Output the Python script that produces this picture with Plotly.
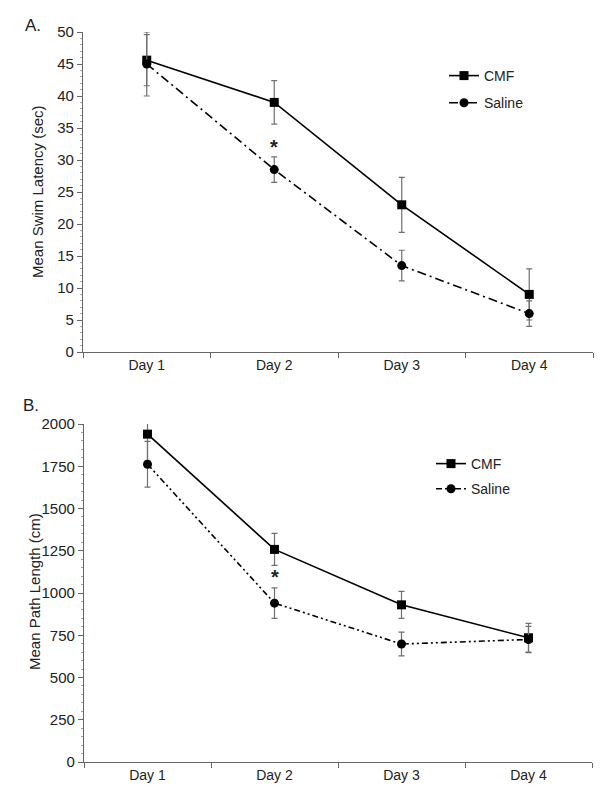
import plotly.graph_objects as go

# data
days = ["Day 1", "Day 2", "Day 3", "Day 4"]

latency_cmf = [45.6, 39.0, 23.0, 9.0]
latency_cmf_err = [4.0, 3.4, 4.3, 4.0]
latency_saline = [45.0, 28.5, 13.5, 6.0]
latency_saline_err = [5.0, 2.0, 2.4, 2.0]

path_cmf = [1940, 1258, 930, 735]
path_cmf_err = [160, 95, 80, 85]
path_saline = [1762, 940, 698, 725]
path_saline_err = [135, 90, 70, 78]

W, H = 600, 802
FONT = "Liberation Sans, Arial, Helvetica, sans-serif"
AXC = "#666666"
ERRC = "#707070"


def xdom(x0, x1):
    return [x0 / W, x1 / W]


def ydom(top, bottom):
    return [1 - bottom / H, 1 - top / H]


fig = go.Figure()


def add_pair(cmf, cmf_err, sal, sal_err, xa, ya, legend, dash):
    fig.add_trace(go.Scatter(
        x=days, y=cmf, name="CMF", xaxis=xa, yaxis=ya, legend=legend,
        legendgroup=legend + "a", mode="lines+markers", cliponaxis=False,
        line=dict(color="black", width=1.6),
        marker=dict(symbol="square", size=9, color="black"),
        error_y=dict(type="data", array=cmf_err, color=ERRC, thickness=1.2, width=3),
    ))
    fig.add_trace(go.Scatter(
        x=days, y=sal, name="Saline", xaxis=xa, yaxis=ya, legend=legend,
        legendgroup=legend + "b", mode="lines+markers", cliponaxis=False,
        line=dict(color="black", width=1.6, dash=dash),
        marker=dict(symbol="circle", size=9, color="black"),
        error_y=dict(type="data", array=sal_err, color=ERRC, thickness=1.2, width=3),
    ))


add_pair(latency_cmf, latency_cmf_err, latency_saline, latency_saline_err,
         "x", "y", "legend", "9px,4px,2px,4px")
add_pair(path_cmf, path_cmf_err, path_saline, path_saline_err,
         "x2", "y2", "legend2", "6px,3px,2px,3px,2px,3px")

xcommon = dict(
    type="category", range=[-0.5, 3.5], showline=True, linecolor=AXC, linewidth=1.2,
    ticks="outside", tickson="boundaries", ticklen=5, tickcolor=AXC,
    showgrid=False, zeroline=False, tickfont=dict(size=14, color="#222"),
    automargin=False,
)
ycommon = dict(
    showline=True, linecolor=AXC, linewidth=1.2, ticks="outside", ticklen=5,
    tickcolor=AXC, showgrid=False, zeroline=False, automargin=False,
    tickfont=dict(size=15, color="#222"),
)


def label(text, x, y, size=17, angle=0, **kw):
    return dict(text=text, x=x / W, y=1 - y / H, xref="paper", yref="paper",
                showarrow=False, textangle=angle, font=dict(size=size), **kw)


fig.update_layout(
    template="none",
    width=W, height=H,
    margin=dict(l=0, r=0, t=0, b=0),
    paper_bgcolor="white", plot_bgcolor="white",
    font=dict(family=FONT, color="#222"),
    showlegend=True,
    xaxis=dict(domain=xdom(83, 593), anchor="y", **xcommon),
    yaxis=dict(domain=ydom(32, 352), anchor="x", range=[0, 50], dtick=5,
               minor=dict(dtick=1, ticks="outside", ticklen=2, tickcolor="#aaa"),
               **ycommon),
    xaxis2=dict(domain=xdom(84, 592), anchor="y2", **xcommon),
    yaxis2=dict(domain=ydom(424, 762), anchor="x2", range=[0, 2000], dtick=250,
                minor=dict(dtick=50, ticks="outside", ticklen=2, tickcolor="#aaa"),
                **ycommon),
    legend=dict(x=444 / W, y=1 - 60 / H, xanchor="left", yanchor="top",
                bgcolor="rgba(0,0,0,0)", font=dict(size=14), tracegroupgap=6,
                itemwidth=30),
    legend2=dict(x=431 / W, y=1 - 448 / H, xanchor="left", yanchor="top",
                 bgcolor="rgba(0,0,0,0)", font=dict(size=14), tracegroupgap=4,
                 itemwidth=30),
    annotations=[
        label("A.", 23, 25, xanchor="left", yanchor="middle"),
        label("B.", 21, 405, xanchor="left", yanchor="middle"),
        label("Mean Swim Latency (sec)", 38, 192, size=15, angle=-90,
              xanchor="center", yanchor="middle"),
        label("Mean Path Length (cm)", 34, 592, size=15, angle=-90,
              xanchor="center", yanchor="middle"),
        dict(text="<b>*</b>", x="Day 2", y=32.7, xref="x", yref="y", showarrow=False,
             yshift=-4, font=dict(size=20)),
        dict(text="<b>*</b>", x="Day 2", y=1120, xref="x2", yref="y2", showarrow=False,
             yshift=-4, font=dict(size=20)),
    ],
)

# drop the browser's default 8px body margin so the figure sits at the page origin
fig.write_html("out.html", config={"displayModeBar": False},
               post_script="document.body.style.margin='0';")
